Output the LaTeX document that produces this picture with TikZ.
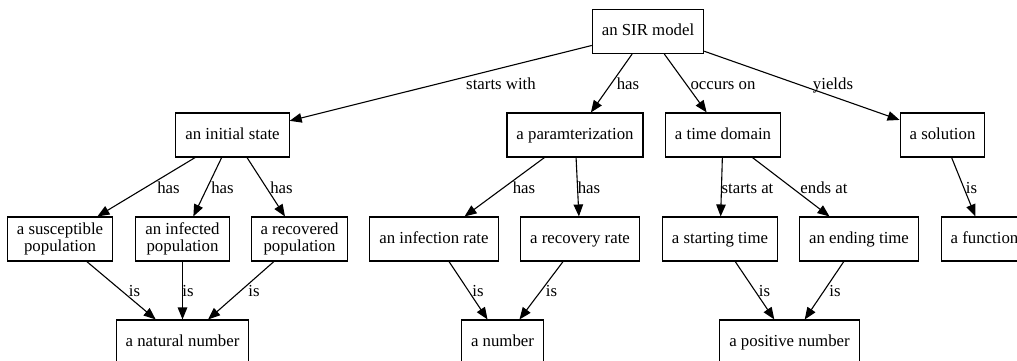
\documentclass[tikz,border=0pt]{standalone}
\usepackage{fontspec}
\setmainfont{Liberation Serif}
\usetikzlibrary{arrows.meta}

\begin{document}
\begin{tikzpicture}[
    x=1pt, y=-1pt,
    font=\fontsize{16.8}{16.5}\selectfont,
    basebox/.style={rectangle, draw, line width=1.1pt, minimum height=44pt, inner xsep=9.5pt, inner ysep=2pt, align=center},
    box/.style={basebox, text height=12pt, text depth=3.5pt},
    twobox/.style={basebox},
    arrow/.style={-{Triangle[length=12pt,width=9.5pt]}, line width=1.1pt},
    lbl/.style={anchor=base, inner sep=0pt}
]
    \useasboundingbox (0,0) rectangle (1017,360);

    \node[box] (sir) at (648, 31.5) {an SIR model};

    \node[box] (init) at (232.5, 135) {an initial state};
    \node[box] (param) at (575, 135) {a paramterization};
    \node[box] (tdom) at (723, 135) {a time domain};
    \node[box] (sol) at (942.5, 135) {a solution};

    \node[twobox] (sus) at (60, 239) {a susceptible\\population};
    \node[twobox] (inf) at (182.5, 239) {an infected\\population};
    \node[twobox] (rec) at (299.5, 239) {a recovered\\population};
    \node[box] (irate) at (434, 239) {an infection rate};
    \node[box] (rrate) at (580, 239) {a recovery rate};
    \node[box] (tstart) at (720, 239) {a starting time};
    \node[box] (tend) at (859, 239) {an ending time};
    \node[box] (func) at (984.5, 239) {a function};

    \node[box] (nat) at (182.5, 342) {a natural number};
    \node[box] (num) at (502.5, 342) {a number};
    \node[box] (pos) at (789.5, 342) {a positive number};

    \draw[arrow] (sir) -- (init) node[lbl] at (501, 89) {starts with};
    \draw[arrow] (sir) -- (param) node[lbl] at (628, 89) {has};
    \draw[arrow] (sir) -- (tdom) node[lbl] at (723, 89) {occurs on};
    \draw[arrow] (sir) -- (sol) node[lbl] at (833, 89) {yields};

    \draw[arrow] (init) -- (sus) node[lbl] at (168.5, 193) {has};
    \draw[arrow] (init) -- (inf) node[lbl] at (222.5, 193) {has};
    \draw[arrow] (init) -- (rec) node[lbl] at (281.5, 193) {has};
    \draw[arrow] (param) -- (irate) node[lbl] at (524, 193) {has};
    \draw[arrow] (param) -- (rrate) node[lbl] at (589, 193) {has};
    \draw[arrow] (tdom) -- (tstart) node[lbl] at (747.5, 193) {starts at};
    \draw[arrow] (tdom) -- (tend) node[lbl] at (824, 193) {ends at};
    \draw[arrow] (sol) -- (func) node[lbl] at (971.5, 193) {is};

    \draw[arrow] (sus) -- (nat) node[lbl] at (134.5, 296) {is};
    \draw[arrow] (inf) -- (nat) node[lbl] at (188, 296) {is};
    \draw[arrow] (rec) -- (nat) node[lbl] at (254, 296) {is};
    \draw[arrow] (irate) -- (num) node[lbl] at (478, 296) {is};
    \draw[arrow] (rrate) -- (num) node[lbl] at (551.5, 296) {is};
    \draw[arrow] (tstart) -- (pos) node[lbl] at (764.5, 296) {is};
    \draw[arrow] (tend) -- (pos) node[lbl] at (835, 296) {is};
\end{tikzpicture}
\end{document}
